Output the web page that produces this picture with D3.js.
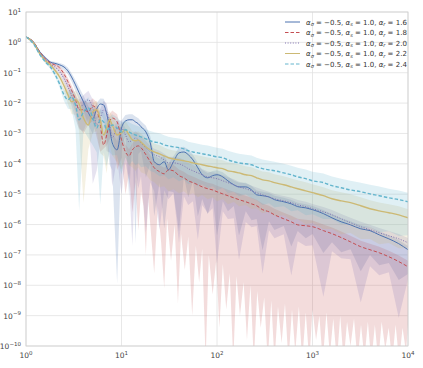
<!DOCTYPE html>
<html>
<head>
<meta charset="utf-8">
<script src="https://d3js.org/d3.v7.min.js"></script>
<style>
  body { margin: 0; background: #ffffff; }
  text { font-family: "DejaVu Sans", sans-serif; }
</style>
</head>
<body>
<div id="chart"></div>
<script>
// lag t at which the curves were read
const times = [1, 1.2, 1.4, 1.6, 1.8, 2, 2.25, 2.5, 2.75, 3,
  3.3, 3.6, 4, 4.5, 5, 5.5, 6, 6.5, 7, 7.5,
  8, 9, 10, 11, 12, 13, 14, 15, 16, 18,
  20, 22, 25, 28, 31, 35, 40, 45, 50, 56,
  63, 70, 80, 90, 100, 115, 130, 150, 170, 200,
  230, 260, 300, 350, 400, 500, 600, 700, 850, 1000,
  1300, 1600, 2000, 2500, 3200, 4000, 5000, 6300, 8000, 10000];

// mean curves, log10 of the value
const mean16 = [0.18, 0.01, -0.32, -0.51, -0.65, -0.69, -0.74, -0.81, -0.94, -1.14,
  -1.40, -1.66, -1.96, -2.32, -2.52, -2.19, -2.03, -2.06, -2.36, -2.82,
  -3.31, -3.54, -2.82, -2.59, -2.55, -2.55, -2.62, -2.68, -2.78, -2.95,
  -3.31, -3.93, -4.03, -3.93, -4.20, -3.93, -3.64, -3.61, -3.70, -3.87,
  -4.13, -4.36, -4.46, -4.39, -4.36, -4.43, -4.56, -4.69, -4.76, -4.76,
  -4.86, -5.02, -5.05, -5.09, -5.18, -5.25, -5.32, -5.41, -5.45, -5.51,
  -5.64, -5.78, -5.91, -6.01, -6.14, -6.20, -6.34, -6.47, -6.63, -6.83];
const mean18 = [0.18, 0.01, -0.32, -0.55, -0.68, -0.74, -0.84, -1.04, -1.30, -1.57,
  -1.89, -2.22, -2.22, -2.29, -2.09, -2.22, -2.72, -3.38, -3.05, -2.62,
  -2.49, -2.62, -3.21, -3.61, -3.74, -3.54, -3.44, -3.41, -3.47, -3.70,
  -3.93, -4.13, -4.26, -4.33, -4.20, -4.23, -4.39, -4.46, -4.56, -4.62,
  -4.69, -4.76, -4.82, -4.86, -4.92, -4.99, -5.05, -5.12, -5.18, -5.25,
  -5.32, -5.38, -5.51, -5.58, -5.68, -5.81, -5.91, -6.01, -6.04, -6.07,
  -6.20, -6.30, -6.43, -6.57, -6.73, -6.83, -6.93, -7.06, -7.22, -7.39];
const mean20 = [0.18, -0.02, -0.35, -0.58, -0.71, -0.81, -0.97, -1.20, -1.47, -1.73,
  -2.03, -2.16, -2.03, -1.89, -2.16, -2.72, -2.49, -2.22, -2.29, -2.72,
  -3.15, -2.82, -2.82, -3.05, -3.28, -3.21, -3.15, -3.21, -3.31, -3.47,
  -3.61, -3.70, -3.77, -3.87, -3.97, -3.97, -4.00, -4.07, -4.16, -4.23,
  -4.30, -4.36, -4.43, -4.46, -4.49, -4.56, -4.62, -4.69, -4.76, -4.82,
  -4.89, -4.95, -5.02, -5.09, -5.15, -5.22, -5.28, -5.35, -5.41, -5.48,
  -5.58, -5.68, -5.81, -5.94, -6.07, -6.17, -6.27, -6.37, -6.47, -6.60];
const mean22 = [0.18, -0.02, -0.38, -0.61, -0.74, -0.91, -1.14, -1.43, -1.73, -1.96,
  -1.89, -2.03, -2.49, -2.72, -2.29, -2.22, -2.55, -3.05, -2.82, -2.55,
  -2.72, -3.05, -2.98, -2.88, -3.05, -3.21, -3.24, -3.21, -3.28, -3.44,
  -3.54, -3.61, -3.67, -3.74, -3.80, -3.84, -3.87, -3.90, -3.93, -3.97,
  -4.00, -4.03, -4.07, -4.10, -4.13, -4.16, -4.23, -4.26, -4.30, -4.36,
  -4.39, -4.46, -4.53, -4.56, -4.62, -4.69, -4.76, -4.82, -4.89, -4.95,
  -5.05, -5.15, -5.22, -5.28, -5.38, -5.48, -5.55, -5.61, -5.68, -5.78];
const mean24 = [0.18, -0.05, -0.41, -0.65, -0.81, -1.04, -1.37, -1.73, -1.89, -1.80,
  -2.06, -2.55, -2.29, -2.16, -2.49, -2.82, -2.55, -2.62, -2.88, -2.82,
  -2.72, -2.82, -2.95, -2.88, -2.95, -3.01, -3.05, -3.08, -3.11, -3.18,
  -3.24, -3.28, -3.31, -3.38, -3.41, -3.44, -3.47, -3.51, -3.57, -3.61,
  -3.64, -3.67, -3.70, -3.74, -3.77, -3.80, -3.87, -3.93, -3.97, -4.00,
  -4.03, -4.10, -4.16, -4.20, -4.23, -4.30, -4.36, -4.43, -4.49, -4.56,
  -4.62, -4.72, -4.79, -4.86, -4.92, -4.99, -5.05, -5.12, -5.18, -5.25];

// band half-widths above the mean, in decades
const up16 = [0.02, 0.02, 0.03, 0.04, 0.04, 0.05, 0.06, 0.08, 0.10, 0.12,
  0.15, 0.18, 0.20, 0.22, 0.25, 0.20, 0.18, 0.20, 0.25, 0.30,
  0.30, 0.30, 0.25, 0.20, 0.18, 0.18, 0.18, 0.18, 0.18, 0.20,
  0.22, 0.20, 0.20, 0.20, 0.20, 0.18, 0.18, 0.17, 0.17, 0.17,
  0.16, 0.16, 0.16, 0.15, 0.15, 0.15, 0.15, 0.14, 0.14, 0.14,
  0.14, 0.14, 0.13, 0.13, 0.13, 0.13, 0.13, 0.13, 0.12, 0.12,
  0.12, 0.12, 0.12, 0.12, 0.12, 0.12, 0.12, 0.12, 0.12, 0.12];
const up18 = [0.02, 0.02, 0.03, 0.04, 0.05, 0.05, 0.07, 0.10, 0.13, 0.16,
  0.20, 0.25, 0.30, 0.30, 0.25, 0.25, 0.30, 0.30, 0.30, 0.25,
  0.25, 0.25, 0.25, 0.25, 0.22, 0.22, 0.22, 0.22, 0.22, 0.22,
  0.22, 0.22, 0.22, 0.20, 0.20, 0.20, 0.20, 0.20, 0.20, 0.20,
  0.20, 0.20, 0.20, 0.20, 0.20, 0.20, 0.20, 0.20, 0.20, 0.20,
  0.20, 0.20, 0.20, 0.20, 0.20, 0.20, 0.20, 0.20, 0.20, 0.20,
  0.20, 0.20, 0.20, 0.20, 0.20, 0.20, 0.20, 0.20, 0.20, 0.20];
const up20 = [0.02, 0.02, 0.03, 0.04, 0.05, 0.05, 0.07, 0.10, 0.13, 0.16,
  0.22, 0.28, 0.30, 0.30, 0.28, 0.25, 0.30, 0.30, 0.28, 0.25,
  0.25, 0.25, 0.25, 0.22, 0.22, 0.22, 0.22, 0.22, 0.22, 0.22,
  0.20, 0.20, 0.20, 0.20, 0.20, 0.20, 0.20, 0.20, 0.19, 0.19,
  0.19, 0.19, 0.18, 0.18, 0.18, 0.18, 0.18, 0.18, 0.17, 0.17,
  0.17, 0.17, 0.17, 0.17, 0.16, 0.16, 0.16, 0.16, 0.16, 0.16,
  0.16, 0.16, 0.16, 0.16, 0.16, 0.16, 0.16, 0.16, 0.16, 0.16];
const up22 = [0.02, 0.03, 0.04, 0.05, 0.06, 0.07, 0.10, 0.15, 0.20, 0.25,
  0.30, 0.30, 0.30, 0.30, 0.30, 0.30, 0.30, 0.30, 0.30, 0.30,
  0.30, 0.30, 0.30, 0.28, 0.28, 0.28, 0.28, 0.28, 0.28, 0.28,
  0.28, 0.28, 0.28, 0.28, 0.28, 0.28, 0.28, 0.28, 0.28, 0.28,
  0.28, 0.28, 0.28, 0.28, 0.28, 0.28, 0.28, 0.28, 0.28, 0.28,
  0.28, 0.28, 0.28, 0.28, 0.28, 0.28, 0.28, 0.28, 0.28, 0.28,
  0.28, 0.28, 0.28, 0.28, 0.28, 0.28, 0.28, 0.28, 0.28, 0.28];
const up24 = [0.02, 0.03, 0.04, 0.05, 0.06, 0.08, 0.12, 0.18, 0.25, 0.30,
  0.35, 0.35, 0.35, 0.35, 0.35, 0.35, 0.35, 0.35, 0.35, 0.35,
  0.35, 0.35, 0.32, 0.32, 0.32, 0.32, 0.32, 0.32, 0.32, 0.32,
  0.32, 0.32, 0.32, 0.32, 0.30, 0.30, 0.30, 0.30, 0.30, 0.30,
  0.30, 0.30, 0.30, 0.30, 0.30, 0.30, 0.30, 0.30, 0.30, 0.30,
  0.30, 0.30, 0.30, 0.30, 0.30, 0.30, 0.30, 0.30, 0.30, 0.30,
  0.30, 0.30, 0.30, 0.30, 0.30, 0.30, 0.30, 0.30, 0.30, 0.30];

// band depth below the mean, in decades (spiky where the band dives)
const down16 = [0.02, 0.02, 0.03, 0.04, 0.05, 0.05, 0.07, 0.10, 0.12, 0.15,
  0.20, 0.25, 0.30, 0.40, 0.50, 0.35, 0.30, 0.50, 0.80, 1.20,
  0.90, 4.40, 0.60, 0.50, 2.50, 0.60, 4.00, 1.00, 0.80, 1.50,
  0.70, 1.80, 0.60, 2.20, 0.70, 1.00, 2.60, 0.80, 1.40, 0.70,
  1.60, 0.80, 1.20, 0.70, 2.00, 0.80, 1.00, 0.70, 1.60, 0.80,
  1.00, 0.80, 1.80, 0.80, 1.00, 0.80, 1.40, 0.80, 1.00, 0.80,
  1.30, 0.80, 1.00, 0.80, 1.40, 0.80, 1.00, 0.80, 1.20, 0.80];
const down20 = [0.02, 0.03, 0.04, 0.05, 0.05, 0.06, 0.10, 0.15, 0.25, 0.35,
  0.50, 0.70, 0.90, 0.60, 2.50, 1.50, 0.80, 0.70, 1.30, 0.90,
  1.60, 1.00, 2.20, 0.90, 1.30, 3.50, 1.00, 1.60, 1.10, 2.80,
  1.00, 1.20, 2.40, 1.00, 1.20, 1.00, 2.60, 1.00, 1.20, 1.00,
  2.20, 1.00, 1.20, 1.00, 2.80, 1.00, 1.20, 1.10, 2.40, 1.10,
  1.20, 1.10, 2.60, 1.10, 1.30, 1.10, 2.40, 1.20, 1.30, 1.20,
  2.80, 1.20, 1.30, 1.20, 2.50, 1.20, 1.40, 1.20, 2.60, 1.20];
const down22 = [0.02, 0.03, 0.04, 0.05, 0.06, 0.07, 0.10, 0.18, 0.30, 0.40,
  0.50, 0.90, 2.80, 0.80, 0.70, 0.70, 1.10, 0.70, 1.50, 0.80,
  1.00, 0.90, 1.20, 0.90, 1.00, 0.90, 1.00, 0.90, 1.00, 0.90,
  1.00, 1.00, 1.10, 1.00, 1.10, 1.00, 1.10, 1.00, 1.10, 1.00,
  1.10, 1.00, 1.10, 1.00, 1.10, 1.00, 1.10, 1.00, 1.10, 1.00,
  1.10, 1.00, 1.10, 1.00, 1.10, 1.00, 1.10, 1.00, 1.10, 1.00,
  1.10, 1.00, 1.10, 1.00, 1.10, 1.00, 1.10, 1.00, 1.10, 1.00];
const down24 = [0.02, 0.03, 0.04, 0.05, 0.06, 0.08, 0.12, 0.20, 0.30, 0.40,
  0.80, 3.00, 0.60, 1.00, 0.90, 0.80, 2.80, 1.00, 1.20, 0.80,
  1.00, 0.90, 1.40, 0.90, 1.10, 0.90, 1.00, 0.90, 1.00, 0.90,
  1.00, 1.00, 1.10, 1.00, 1.10, 1.00, 1.10, 1.00, 1.10, 1.00,
  1.10, 1.00, 1.10, 1.00, 1.10, 1.00, 1.10, 1.00, 1.10, 1.00,
  1.10, 1.10, 1.20, 1.10, 1.20, 1.10, 1.20, 1.10, 1.20, 1.10,
  1.20, 1.10, 1.20, 1.10, 1.20, 1.10, 1.20, 1.10, 1.20, 1.10];

// the alpha_r = 1.8 band floor is read on a finer grid (log10 of the value)
const timesLow18 = [1, 1.2, 1.4, 1.6, 1.8, 2, 2.25, 2.5, 2.75, 3, 3.3, 3.6, 4, 4.5,
  5, 6, 7, 8, 9, 10, 11, 12, 13, 14, 15, 16, 17, 18, 19, 20,
  22, 24, 26, 28, 30,
  33, 36, 39, 42, 46, 50, 55, 60, 65, 70,
  76, 82, 90, 98, 106, 115, 125, 136, 148, 160,
  174, 190, 206, 224, 243, 264, 287, 312, 340, 370,
  400, 435, 475, 515, 560, 610, 660, 720, 780, 850,
  925, 1000, 1090, 1180, 1280, 1400, 1520, 1650, 1800, 1950,
  2120, 2300, 2500, 2720, 2960, 3220, 3500, 3800, 4130, 4500,
  4880, 5300, 5780, 6280, 6830, 7420, 8070, 8770, 9530, 10000];
const low18 = [0.16, -0.01, -0.35, -0.59, -0.73, -0.80, -0.94, -1.20, -1.50, -1.90, -2.30, -2.80, -3.00, -2.70,
  -2.6, -3.6, -3.4, -3.0, -4.2, -3.8, -5.0, -4.3, -5.6, -4.6, -6.2, -4.9, -5.4, -7.0, -5.1, -6.0,
  -7.6, -5.4, -6.6, -8.1, -5.8,
  -7.2, -6.0, -8.6, -6.3, -7.5, -6.4, -9.0, -6.7, -7.9, -6.8,
  -10.5, -7.0, -8.3, -7.2, -9.4, -7.3, -8.8, -7.6, -10.5, -7.7,
  -9.0, -7.9, -9.8, -8.0, -10.5, -8.2, -9.4, -8.4, -10.5, -8.5,
  -10.5, -8.7, -9.9, -8.6, -10.5, -8.8, -10.2, -8.7, -10.5, -8.9,
  -10.5, -8.8, -9.8, -9.0, -10.5, -8.9, -10.3, -9.1, -10.5, -9.0,
  -10.5, -9.2, -10.0, -9.1, -10.5, -9.3, -10.4, -9.2, -10.5, -9.3,
  -10.5, -9.2, -10.1, -9.4, -10.5, -9.3, -10.5, -9.4, -10.2, -9.3];

const alphaR = ["1.6", "1.8", "2.0", "2.2", "2.4"];
const colors = ["#4c72b0", "#c44e52", "#8172b2", "#ccb974", "#64b5cd"];
const dashes = [null, "3.5,2", "1,1.6", null, "3.5,2"];
const widths = [1, 1, 1, 1.4, 1.4];
const xTicks = [1, 10, 100, 1000, 10000];
const yExps = [1, 0, -1, -2, -3, -4, -5, -6, -7, -8, -9, -10];

const series = [
  { mean: mean16, up: up16, down: down16 },
  { mean: mean18, up: up18, lowT: timesLow18, low: low18 },
  { mean: mean20, up: up20, down: down20 },
  { mean: mean22, up: up22, down: down22 },
  { mean: mean24, up: up24, down: down24 }
];

const W = 423, H = 368;
const plotLeft = 26, plotRight = 408, plotTop = 12, plotBottom = 346;

const svg = d3.select("#chart").append("svg")
  .attr("width", W).attr("height", H);

const x = d3.scaleLog().domain([1, 1e4]).range([plotLeft, plotRight]);
const y = d3.scaleLog().domain([1e-10, 10]).range([plotBottom, plotTop]);

svg.append("clipPath").attr("id", "plot")
  .append("rect").attr("x", plotLeft).attr("y", plotTop)
  .attr("width", plotRight - plotLeft).attr("height", plotBottom - plotTop);

// grid
const grid = svg.append("g").attr("stroke", "#e2e2e2").attr("stroke-width", 0.8);
xTicks.forEach(t => grid.append("line")
  .attr("x1", x(t)).attr("x2", x(t)).attr("y1", plotTop).attr("y2", plotBottom));
yExps.forEach(e => grid.append("line")
  .attr("x1", plotLeft).attr("x2", plotRight).attr("y1", y(10 ** e)).attr("y2", y(10 ** e)));

const plot = svg.append("g").attr("clip-path", "url(#plot)");
const pts = d3.line().x(d => x(d[0])).y(d => y(d[1]));

// bands
series.forEach((s, k) => {
  const upper = times.map((t, i) => [t, 10 ** (s.mean[i] + s.up[i])]);
  const lower = s.low
    ? s.lowT.map((t, j) => [t, 10 ** s.low[j]])
    : times.map((t, i) => [t, 10 ** (s.mean[i] - s.down[i])]);
  plot.append("path")
    .attr("d", pts(upper.concat(lower.reverse())) + "Z")
    .attr("fill", colors[k])
    .attr("fill-opacity", 0.2)
    .attr("stroke", "none");
});

// mean lines
const meanLine = d3.line()
  .x((d, i) => x(times[i]))
  .y(d => y(10 ** d))
  .curve(d3.curveMonotoneX);
series.forEach((s, k) => {
  plot.append("path")
    .attr("d", meanLine(s.mean))
    .attr("fill", "none")
    .attr("stroke", colors[k])
    .attr("stroke-width", widths[k])
    .attr("stroke-dasharray", dashes[k]);
});

// frame
svg.append("rect")
  .attr("x", plotLeft).attr("y", plotTop)
  .attr("width", plotRight - plotLeft).attr("height", plotBottom - plotTop)
  .attr("fill", "none").attr("stroke", "#cfcfcf").attr("stroke-width", 0.8);

// tick labels
function power(sel, e) {
  sel.append("tspan").text("10");
  sel.append("tspan").text(String(e).replace("-", "\u2212"))
    .attr("font-size", "5.5px").attr("dy", -3.5);
}
xTicks.forEach(t => {
  const txt = svg.append("text")
    .attr("x", x(t)).attr("y", 358)
    .attr("text-anchor", "middle")
    .attr("font-size", "7.5px").attr("fill", "#444");
  power(txt, Math.round(Math.log10(t)));
});
yExps.forEach(e => {
  const txt = svg.append("text")
    .attr("x", 21).attr("y", y(10 ** e) + 3)
    .attr("text-anchor", "end")
    .attr("font-size", "7.5px").attr("fill", "#444");
  power(txt, e);
});

// legend
const legend = svg.append("g").attr("transform", "translate(285,22)");
alphaR.forEach((a, k) => {
  const g = legend.append("g").attr("transform", `translate(0,${k * 10.5})`);
  g.append("line").attr("x1", 0).attr("x2", 15).attr("y1", 0).attr("y2", 0)
    .attr("stroke", colors[k]).attr("stroke-width", 1)
    .attr("stroke-dasharray", dashes[k]);
  const txt = g.append("text").attr("x", 21).attr("y", 2.5)
    .attr("font-family", "DejaVu Serif").attr("font-size", "7px").attr("fill", "#333");
  const parts = [["α", 0], ["σ", 1], [" = \u22120.5, ", 0], ["α", 0], ["s", 1],
    [" = 1.0, ", 0], ["α", 0], ["r", 1], [" = " + a, 0]];
  let prev = 0;
  parts.forEach(([p, sub]) => {
    const ts = txt.append("tspan").text(p).attr("dy", sub ? 1.5 : (prev ? -1.5 : 0));
    if (sub) ts.attr("font-size", "5px");
    if (p === "α" || sub) ts.attr("font-style", "italic");
    prev = sub;
  });
});
</script>
</body>
</html>
